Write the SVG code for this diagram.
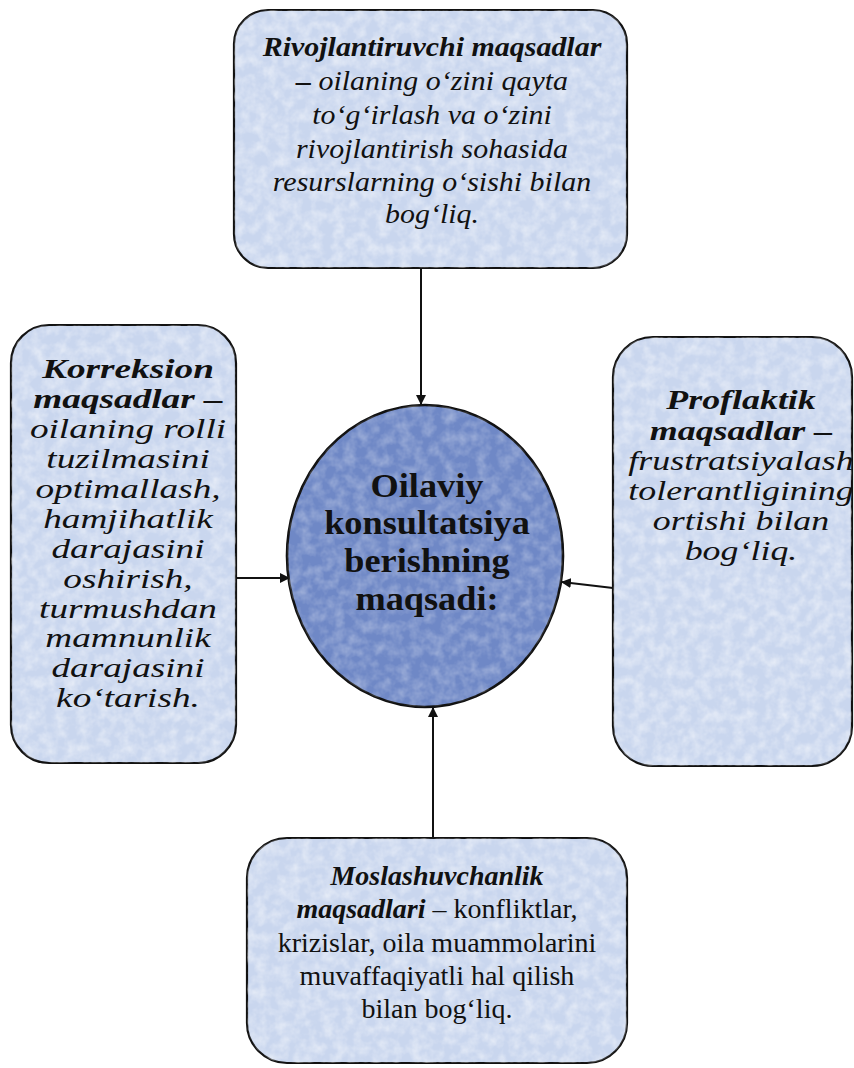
<svg xmlns="http://www.w3.org/2000/svg" width="854" height="1068" viewBox="0 0 854 1068">
  <style>
    .box { fill: #c9d6ee; stroke: #111; stroke-width: 2.2; }
    .oval { fill: #6f88c6; stroke: #111; stroke-width: 2.6; }
    .tex { filter: url(#mottle); }
    text { font-family: "Liberation Serif", "Times New Roman", serif; fill: #111; text-anchor: middle; }
    .bi { font-weight: bold; font-style: italic; }
    .it { font-style: italic; }
    .rg { font-style: normal; font-weight: normal; }
    .hd { font-weight: bold; }
    .conn { stroke: #111; stroke-width: 2; fill: none; marker-end: url(#arr); }
  </style>
  <defs>
    <marker id="arr" viewBox="0 0 10 10" refX="9" refY="5" markerWidth="5" markerHeight="5" orient="auto" markerUnits="strokeWidth">
      <path d="M0,0 L10,5 L0,10 z" fill="#111"/>
    </marker>
    <filter id="mottle" x="0" y="0" width="1" height="1">
      <feTurbulence type="fractalNoise" baseFrequency="0.09" numOctaves="3" seed="7" result="n"/>
      <feColorMatrix in="n" type="matrix" values="0 0 0 0 1  0 0 0 0 1  0 0 0 0 1  0 0 0 1.6 -0.55" result="w"/>
      <feComposite in="w" in2="SourceGraphic" operator="in"/>
    </filter>
  </defs>

  <g id="connectors">
    <line class="conn" x1="421" y1="268" x2="421" y2="404"/>
    <line class="conn" x1="236" y1="578" x2="289" y2="578"/>
    <line class="conn" x1="613" y1="588" x2="562" y2="582"/>
    <line class="conn" x1="433" y1="838" x2="433" y2="708"/>
  </g>

  <g id="node-top">
    <rect class="box" x="234" y="10" width="393" height="258" rx="34"/>
    <rect class="tex" x="234" y="10" width="393" height="258" rx="34" fill="#fff" opacity="0.55"/>
    <g transform="translate(432,0) scale(1.07,1)">
      <text x="0" y="56" font-size="28" class="bi">Rivojlantiruvchi maqsadlar</text>
      <text x="0" y="90" font-size="28" class="it"><tspan class="bi">–</tspan>  oilaning o‘zini qayta</text>
      <text x="0" y="124" font-size="28" class="it">to‘g‘irlash va o‘zini</text>
      <text x="0" y="158" font-size="28" class="it">rivojlantirish sohasida</text>
      <text x="0" y="191" font-size="28" class="it">resurslarning o‘sishi bilan</text>
      <text x="0" y="223" font-size="28" class="it">bog‘liq.</text>
    </g>
  </g>

  <g id="node-left">
    <rect class="box" x="11" y="325" width="225" height="438" rx="38"/>
    <rect class="tex" x="11" y="325" width="225" height="438" rx="38" fill="#fff" opacity="0.55"/>
    <g transform="translate(128,0) scale(1.38,1)">
      <text x="0" y="378" font-size="27" class="bi">Korreksion</text>
      <text x="0" y="408" font-size="27" class="bi">maqsadlar –</text>
      <text x="0" y="438" font-size="27" class="it">oilaning rolli</text>
      <text x="0" y="468" font-size="27" class="it">tuzilmasini</text>
      <text x="0" y="498" font-size="27" class="it">optimallash,</text>
      <text x="0" y="528" font-size="27" class="it">hamjihatlik</text>
      <text x="0" y="558" font-size="27" class="it">darajasini</text>
      <text x="0" y="588" font-size="27" class="it">oshirish,</text>
      <text x="0" y="618" font-size="27" class="it">turmushdan</text>
      <text x="0" y="647" font-size="27" class="it">mamnunlik</text>
      <text x="0" y="677" font-size="27" class="it">darajasini</text>
      <text x="0" y="707" font-size="27" class="it">ko‘tarish.</text>
    </g>
  </g>

  <g id="node-right">
    <rect class="box" x="613" y="337" width="239" height="429" rx="40"/>
    <rect class="tex" x="613" y="337" width="239" height="429" rx="40" fill="#fff" opacity="0.55"/>
    <g transform="translate(741,0) scale(1.33,1)">
      <text x="0" y="409" font-size="27" class="bi">Proflaktik</text>
      <text x="0" y="440" font-size="27" class="bi">maqsadlar –</text>
      <text x="0" y="470" font-size="27" class="it">frustratsiyalash</text>
      <text x="0" y="500" font-size="27" class="it">tolerantligining</text>
      <text x="0" y="530" font-size="27" class="it">ortishi bilan</text>
      <text x="0" y="560" font-size="27" class="it">bog‘liq.</text>
    </g>
  </g>

  <g id="node-bottom">
    <rect class="box" x="247" y="838" width="380" height="225" rx="40"/>
    <rect class="tex" x="247" y="838" width="380" height="225" rx="40" fill="#fff" opacity="0.55"/>
    <text x="437" y="885" font-size="28" class="bi">Moslashuvchanlik</text>
    <text x="437" y="918" font-size="28"><tspan class="bi">maqsadlari</tspan> – konfliktlar,</text>
    <text x="437" y="952" font-size="28">krizislar, oila muammolarini</text>
    <text x="437" y="985" font-size="28">muvaffaqiyatli hal qilish</text>
    <text x="437" y="1018" font-size="28">bilan bog‘liq.</text>
  </g>

  <g id="node-center">
    <ellipse class="oval" cx="425" cy="556" rx="138" ry="151"/>
    <ellipse class="tex" cx="425" cy="556" rx="138" ry="151" fill="#fff" opacity="0.35"/>
    <g transform="translate(427,0) scale(1.1,1)">
      <text x="0" y="497" font-size="33" class="hd">Oilaviy</text>
      <text x="0" y="534" font-size="33" class="hd">konsultatsiya</text>
      <text x="0" y="572" font-size="33" class="hd">berishning</text>
      <text x="0" y="610" font-size="33" class="hd">maqsadi:</text>
    </g>
  </g>
</svg>
